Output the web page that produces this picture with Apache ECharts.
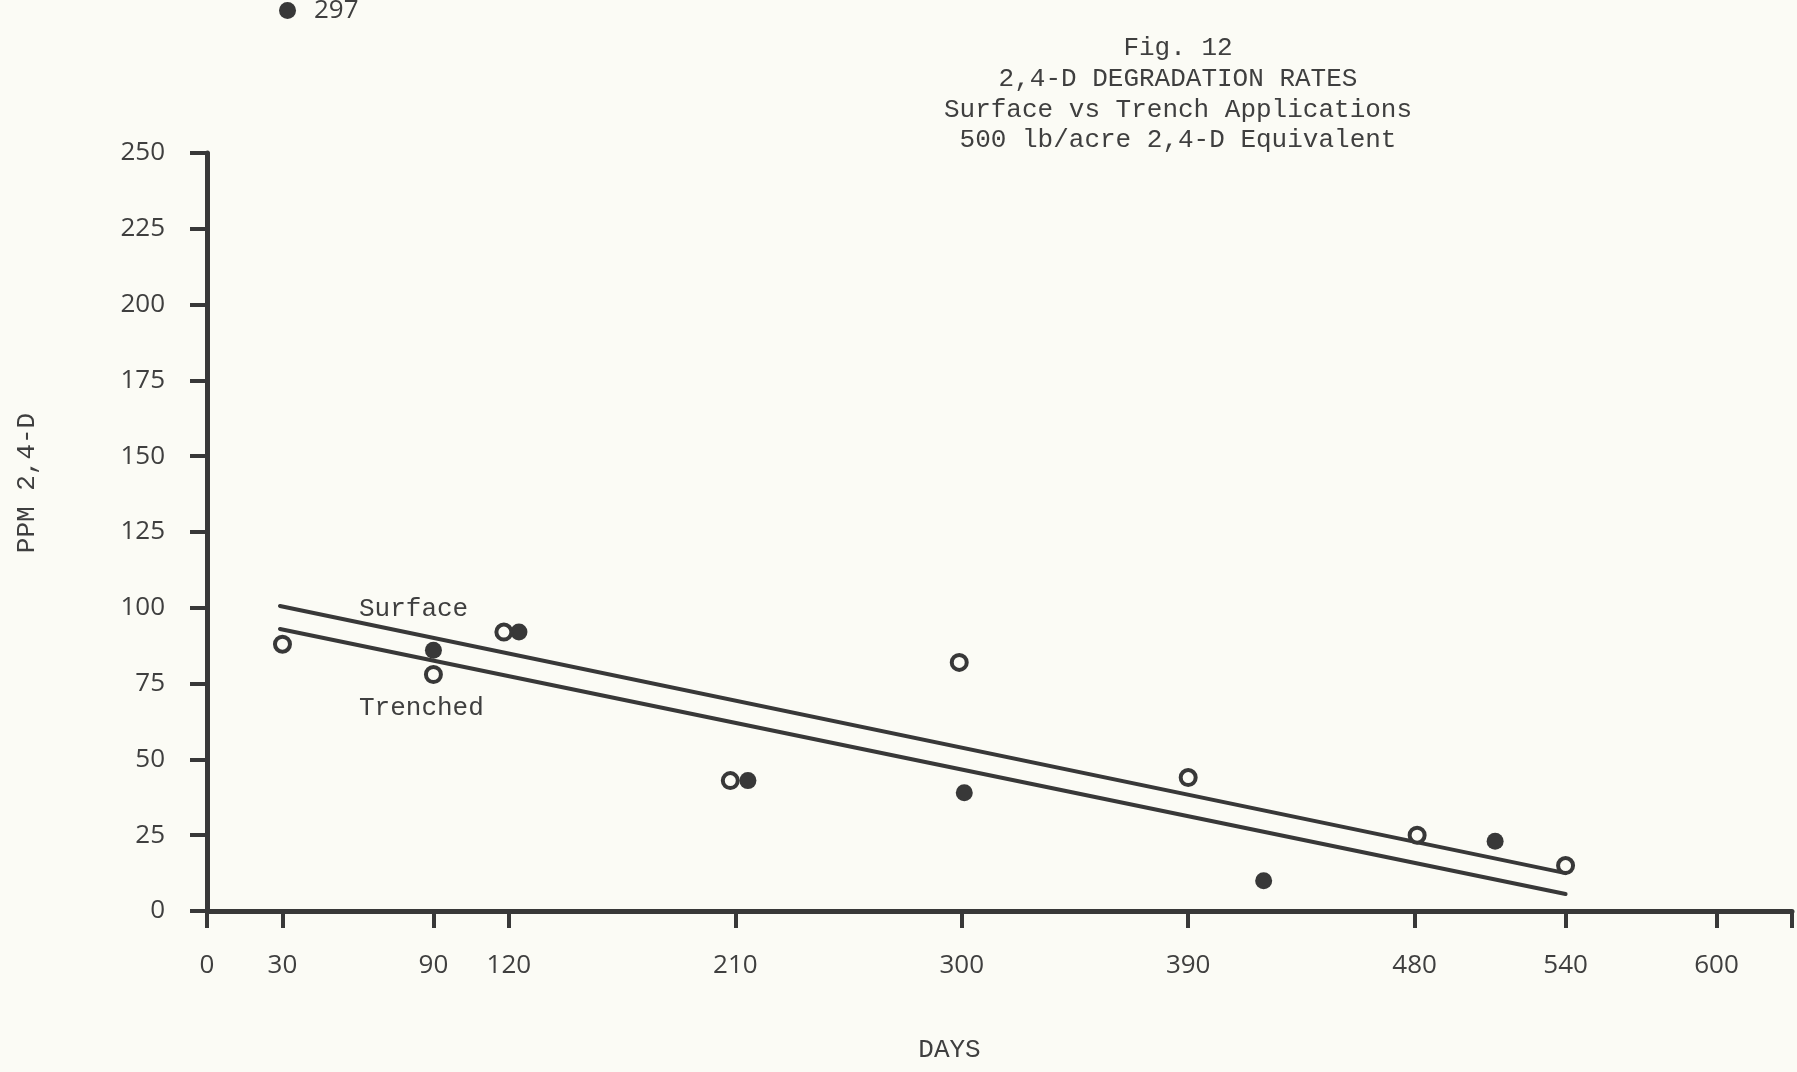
<!DOCTYPE html>
<html>
<head>
<meta charset="utf-8">
<script src="https://cdn.jsdelivr.net/npm/echarts@6/dist/echarts.min.js"></script>
<style>
html,body{margin:0;padding:0;background:#fbfbf5;}
#chart{width:1797px;height:1072px;}
</style>
</head>
<body>
<div id="chart"></div>
<script>
// ---- data ----
var titleLines = ['Fig. 12', '2,4-D DEGRADATION RATES', 'Surface vs Trench Applications', '500 lb/acre 2,4-D Equivalent'];
var xTickValues = [0, 30, 90, 120, 210, 300, 390, 480, 540, 600, 630];
var xLabelValues = [0, 30, 90, 120, 210, 300, 390, 480, 540, 600];
var yTickValues = [0, 25, 50, 75, 100, 125, 150, 175, 200, 225, 250];

// filled circles (surface application)
var surfaceDays = [32, 90, 124, 215, 301, 420, 512];
var surfacePPM  = [297, 86, 92, 43, 39, 10, 23];
// open circles (trenched application)
var trenchDays = [30, 90, 118, 208, 299, 390, 481, 540];
var trenchPPM  = [88, 78, 92, 43, 82, 44, 25, 15];

// fitted lines
var surfaceFitDays = [29, 540];
var surfaceFitPPM  = [100.6, 12.5];
var trenchFitDays  = [29, 540];
var trenchFitPPM   = [93, 5.6];

function zip(a, b) { return a.map(function (v, i) { return [v, b[i]]; }); }

var ink = '#383838';
var textInk = '#3f3f3f';
var paper = '#fbfbf5';
var mono = '"Liberation Mono", "DejaVu Sans Mono", monospace';
var sans = '"Open Sans", "DejaVu Sans", sans-serif';

var chart = echarts.init(document.getElementById('chart'), null, {renderer: 'canvas'});
chart.setOption({
  backgroundColor: paper,
  animation: false,
  grid: { left: 207, right: 5, top: 153, bottom: 161, containLabel: false },
  xAxis: {
    type: 'value', min: 0, max: 630, interval: 30,
    splitLine: { show: false },
    axisLine: { show: true, onZero: false, lineStyle: { color: ink, width: 5 } },
    axisTick: { show: true, customValues: xTickValues, length: 17, lineStyle: { color: ink, width: 4 } },
    axisLabel: { customValues: xLabelValues, margin: 42, color: textInk, fontFamily: sans, fontSize: 26 },
    name: 'DAYS', nameLocation: 'middle', nameGap: 126,
    nameTextStyle: { fontFamily: mono, fontSize: 26, color: textInk, padding: [0, 100, 0, 0] }
  },
  yAxis: {
    type: 'value', min: 0, max: 250, interval: 25,
    splitLine: { show: false },
    axisLine: { show: true, onZero: false, lineStyle: { color: ink, width: 5 } },
    axisTick: { show: true, customValues: yTickValues, length: 17, lineStyle: { color: ink, width: 4 } },
    axisLabel: { customValues: yTickValues, margin: 42, color: textInk, fontFamily: sans, fontSize: 26 },
    name: 'PPM 2,4-D', nameLocation: 'middle', nameGap: 167,
    nameTextStyle: { fontFamily: mono, fontSize: 26, color: textInk, padding: [0, 0, 0, 98] }
  },
  series: [
    {
      name: 'Surface fit', type: 'line', data: zip(surfaceFitDays, surfaceFitPPM),
      showSymbol: false, lineStyle: { color: ink, width: 4, cap: 'round' }, z: 2
    },
    {
      name: 'Trenched fit', type: 'line', data: zip(trenchFitDays, trenchFitPPM),
      showSymbol: false, lineStyle: { color: ink, width: 4, cap: 'round' }, z: 2
    },
    {
      name: 'Surface', type: 'scatter', clip: false, data: zip(surfaceDays, surfacePPM),
      symbol: 'circle', symbolSize: 17, itemStyle: { color: ink, opacity: 1 }, z: 3,
      label: {
        show: true, position: 'right', distance: 18, color: textInk, fontFamily: sans, fontSize: 26,
        formatter: function (p) { return p.value[1] > 250 ? String(p.value[1]) : ''; }
      }
    },
    {
      name: 'Trenched', type: 'scatter', clip: false, data: zip(trenchDays, trenchPPM),
      symbol: 'circle', symbolSize: 15,
      itemStyle: { color: paper, borderColor: ink, borderWidth: 4, opacity: 1 }, z: 4
    }
  ],
  graphic: [
    {
      type: 'text', x: 1178, y: 33,
      style: { text: titleLines.join('\n'), textAlign: 'center', textVerticalAlign: 'top',
        font: '26px ' + mono, lineHeight: 30.7, fill: textInk }
    },
    {
      type: 'text', x: 359, y: 609,
      style: { text: 'Surface', textAlign: 'left', textVerticalAlign: 'middle', font: '26px ' + mono, fill: textInk }
    },
    {
      type: 'text', x: 359, y: 708,
      style: { text: 'Trenched', textAlign: 'left', textVerticalAlign: 'middle', font: '26px ' + mono, fill: textInk }
    }
  ]
});
</script>
</body>
</html>
